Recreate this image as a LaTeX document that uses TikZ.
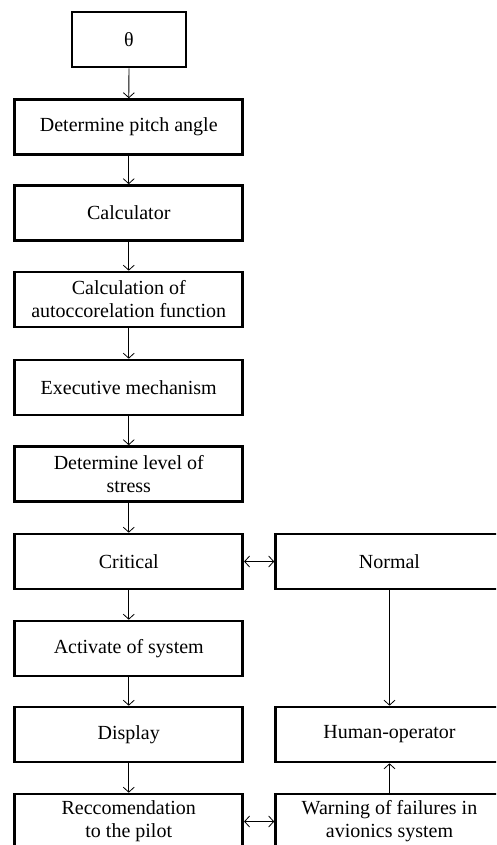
\documentclass[tikz,border=0pt]{standalone}
\usepackage{fontspec}
\setmainfont{Liberation Serif}
\usetikzlibrary{arrows.meta}
\begin{document}
\begin{tikzpicture}[x=1pt,y=-1pt,
  box/.style={draw=black, line width=2.6pt, minimum width=228pt, minimum height=55pt,
    inner sep=0pt, align=center, font=\fontsize{20}{23}\selectfont},
  conn/.style={line width=0.8pt, -{Straight Barb[length=5pt,width=11pt,line width=0.8pt]}},
  dconn/.style={line width=0.8pt, {Straight Barb[length=5pt,width=11pt,line width=0.8pt]}-{Straight Barb[length=5pt,width=11pt,line width=0.8pt]}}]
\useasboundingbox (0,0) rectangle (496,845);
\clip (0,0) rectangle (496,845);
\node[box, minimum width=114pt] (theta) at (129,39.5) {θ};
\node[box] (pitch) at (128.75,127) {Determine pitch angle};
\node[box] (calc) at (128.75,213) {Calculator};
\node[box] (auto) at (128.75,299.5) {Calculation of\\autoccorelation function};
\node[box] (exec) at (128.75,387.5) {Executive mechanism};
\node[box] (stress) at (128.75,474) {Determine level of\\stress};
\node[box] (crit) at (128.75,561.5) {Critical};
\node[box] (act) at (128.75,648.5) {Activate of system};
\node[box] (disp) at (128.75,734.5) {Display};
\node[box] (rec) at (128.75,821.5) {Reccomendation\\to the pilot};
\node[box] (norm) at (389.5,561.5) {Normal};
\node[box] (human) at (389.5,734.5) {Human-operator};
\node[box] (warn) at (389.5,821.5) {Warning of failures in\\avionics system};
\draw[conn] (theta) -- (pitch);
\draw[conn] (pitch) -- (calc);
\draw[conn] (calc) -- (auto);
\draw[conn] (auto) -- (exec);
\draw[conn] (exec) -- (stress);
\draw[conn] (stress) -- (crit);
\draw[conn] (crit) -- (act);
\draw[conn] (act) -- (disp);
\draw[conn] (disp) -- (rec);
\draw[dconn] (crit) -- (norm);
\draw[dconn] (rec) -- (warn);
\draw[conn] (norm) -- (human);
\draw[conn] (warn) -- (human);
\end{tikzpicture}
\end{document}
